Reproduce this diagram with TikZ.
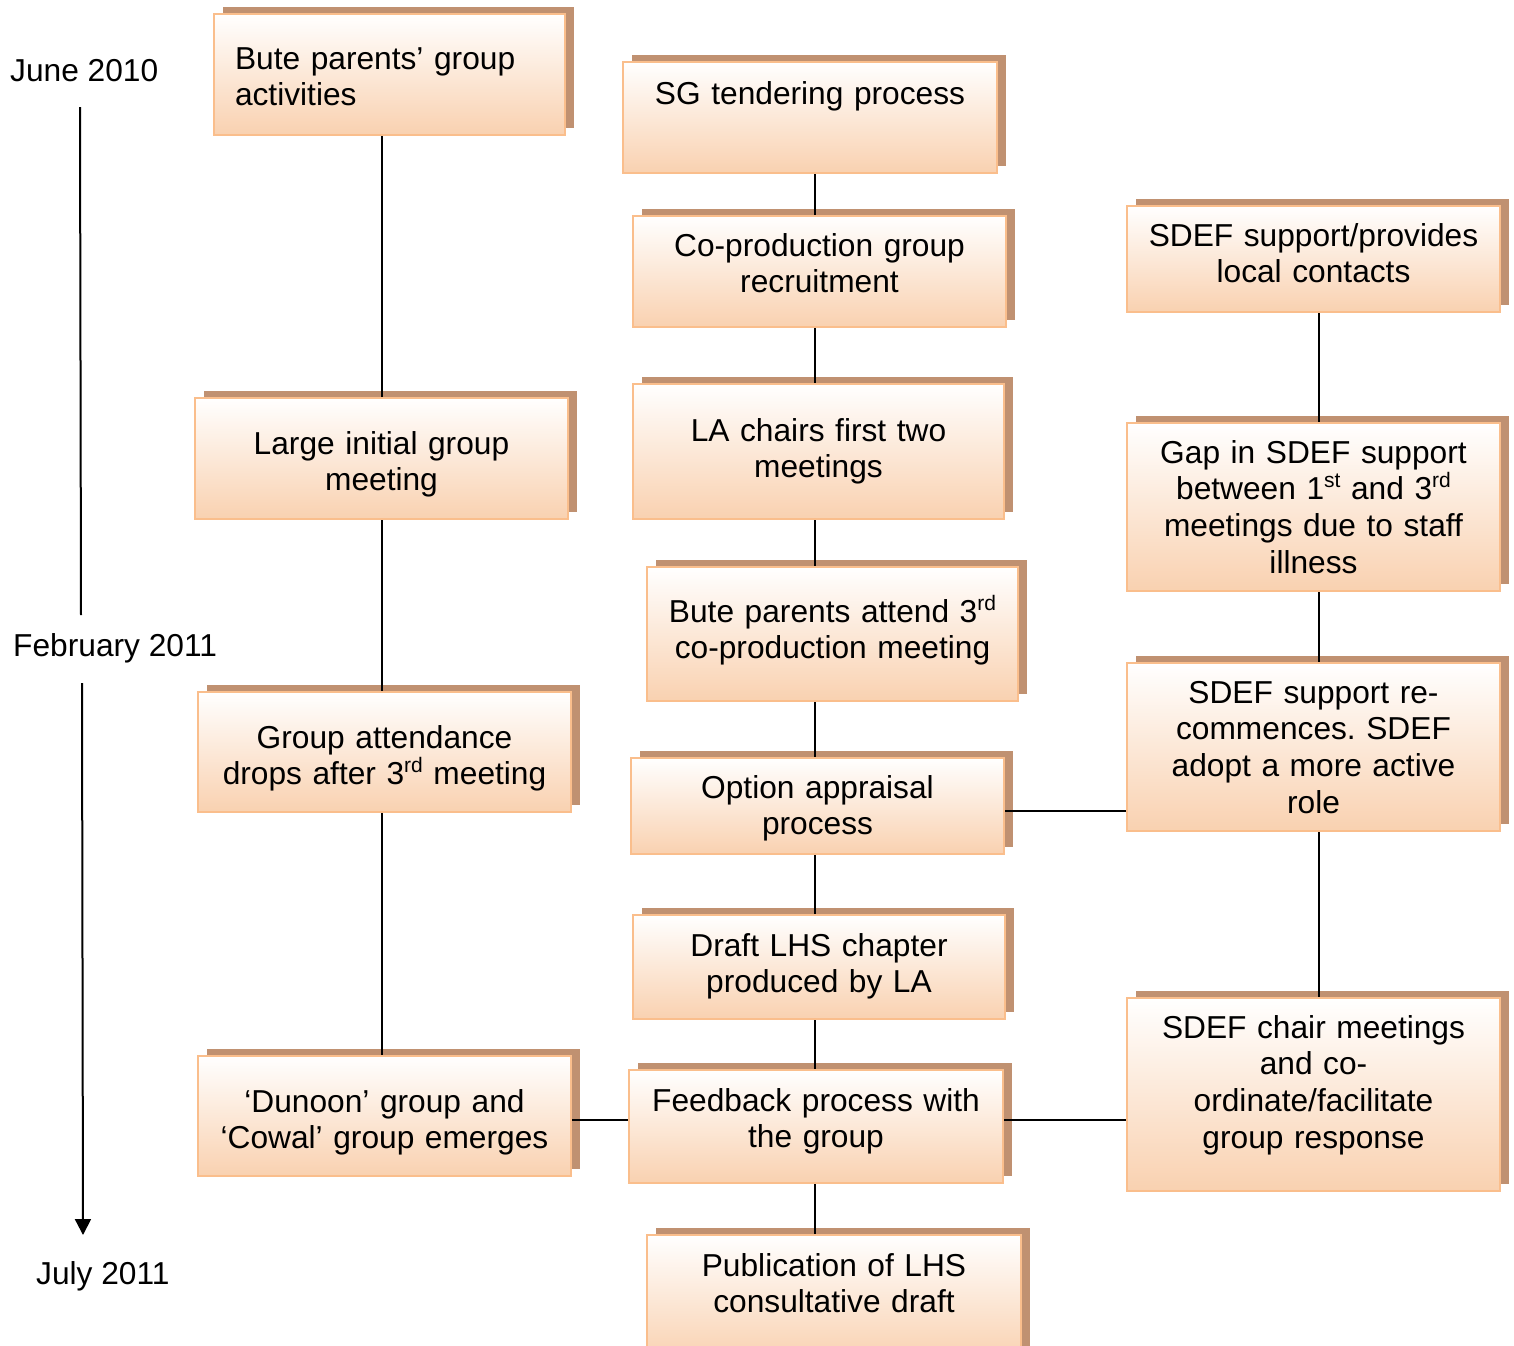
\documentclass[tikz,border=0pt]{standalone}
\usepackage{fontspec}
\setmainfont{Liberation Sans}
\usetikzlibrary{shadows,arrows.meta}
\definecolor{peach}{RGB}{249,209,176}
\definecolor{boxborder}{RGB}{250,190,140}
\definecolor{shadowc}{RGB}{192,145,113}
\newcommand\mainsize{\fontsize{31.7}{36.8}\selectfont\frenchspacing}
\newcommand\sups[1]{\raisebox{12pt}{\fontsize{21}{21}\selectfont #1}}
% \flowbox[extra]{name}{top}{left}{right}{bottom}{first baseline}{text}
\newcommand\flowbox[8][]{%
  \node[box, minimum width={#5-#4}, text width={#5-#4-16}, text height={#7-#3}, text depth={#6-#7}, #1] (#2) at (#4,#3) {#8};}
\tikzset{
  box/.style={draw=boxborder, line width=2pt, top color=white, bottom color=peach,
    general shadow={fill=shadowc, shadow xshift=9pt, shadow yshift=7.5pt},
    inner sep=0pt, anchor=north west, align=center, font=\mainsize},
  conn/.style={line width=1.7pt, black},
  lbl/.style={inner sep=0pt, font=\mainsize},
  timeline/.style={line width=2pt, black}
}
\begin{document}
\begin{tikzpicture}[x=1pt, y=-1pt]
\useasboundingbox (0,0) rectangle (1514,1345);
\clip (0,0) rectangle (1514,1345);
% helper coordinates
\coordinate (lx) at (382,0);
\coordinate (mx) at (815,0);
\coordinate (rx) at (1319,0);
\coordinate (h1) at (0,811);
\coordinate (h2) at (0,1120);
\coordinate (t1) at (80,107);
\coordinate (t2) at (81,615);
\coordinate (t3) at (82,683);
\coordinate (t4) at (83,1235);

% timeline labels
\node[lbl, anchor=base west] (jun) at (10,81) {June 2010};
\node[lbl, anchor=base west] (feb) at (13,656) {February 2011};
\node[lbl, anchor=base west] (jul) at (36,1284) {July 2011};
\draw[timeline] (t1) -- (t2);
\draw[timeline, -{Triangle[width=16pt,length=16pt]}] (t3) -- (t4);

% left column
\flowbox[text width=309, align=left]{bute}{13}{213}{564}{134}{68}{Bute parents’ group\\activities}
\flowbox{large}{397}{194}{567}{518}{453}{Large initial group\\meeting}
\flowbox{att}{691}{197}{570}{811}{747}{Group attendance\\drops after 3\sups{rd} meeting}
\flowbox{dun}{1055}{197}{570}{1175}{1111}{‘Dunoon’ group and\\‘Cowal’ group emerges}

% middle column
\flowbox{sg}{61}{622}{996}{172}{103}{SG tendering process}
\flowbox{cop}{215}{632}{1005}{326}{255}{Co-production group\\recruitment}
\flowbox{la}{383}{632}{1003}{518}{440}{LA chairs first two\\meetings}
\flowbox{bp}{566}{646}{1017}{700}{621}{Bute parents attend 3\sups{rd}\\co-production meeting}
\flowbox{opt}{757}{630}{1003}{853}{797}{Option appraisal\\process}
\flowbox{dr}{914}{632}{1004}{1018}{955}{Draft LHS chapter\\produced by LA}
\flowbox{fb}{1069}{628}{1002}{1182}{1110}{Feedback process with\\the group}
\flowbox{pub}{1234}{646}{1020}{1360}{1275}{Publication of LHS\\consultative draft}

% right column
\flowbox{sd}{205}{1126}{1499}{311}{245}{SDEF support/provides\\local contacts}
\flowbox{gap}{422}{1126}{1499}{590}{462}{Gap in SDEF support\\between 1\sups{st} and 3\sups{rd}\\meetings due to staff\\illness}
\flowbox{rec}{662}{1126}{1499}{830}{702}{SDEF support re-\\commences. SDEF\\adopt a more active\\role}
\flowbox{ch}{997}{1126}{1499}{1190}{1037}{SDEF chair meetings\\and co-\\ordinate/facilitate\\group response}

% connectors, left column
\draw[conn] (bute.south -| lx) -- (large.north -| lx);
\draw[conn] (large.south -| lx) -- (att.north -| lx);
\draw[conn] (att.south -| lx) -- (dun.north -| lx);
% middle column
\draw[conn] (sg.south -| mx) -- (cop.north -| mx);
\draw[conn] (cop.south -| mx) -- (la.north -| mx);
\draw[conn] (la.south -| mx) -- (bp.north -| mx);
\draw[conn] (bp.south -| mx) -- (opt.north -| mx);
\draw[conn] (opt.south -| mx) -- (dr.north -| mx);
\draw[conn] (dr.south -| mx) -- (fb.north -| mx);
\draw[conn] (fb.south -| mx) -- (pub.north -| mx);
% right column
\draw[conn] (sd.south -| rx) -- (gap.north -| rx);
\draw[conn] (gap.south -| rx) -- (rec.north -| rx);
\draw[conn] (rec.south -| rx) -- (ch.north -| rx);
% horizontal links
\draw[conn] (opt.east |- h1) -- (rec.west |- h1);
\draw[conn] (dun.east |- h2) -- (fb.west |- h2);
\draw[conn] (fb.east |- h2) -- (ch.west |- h2);
\end{tikzpicture}
\end{document}
